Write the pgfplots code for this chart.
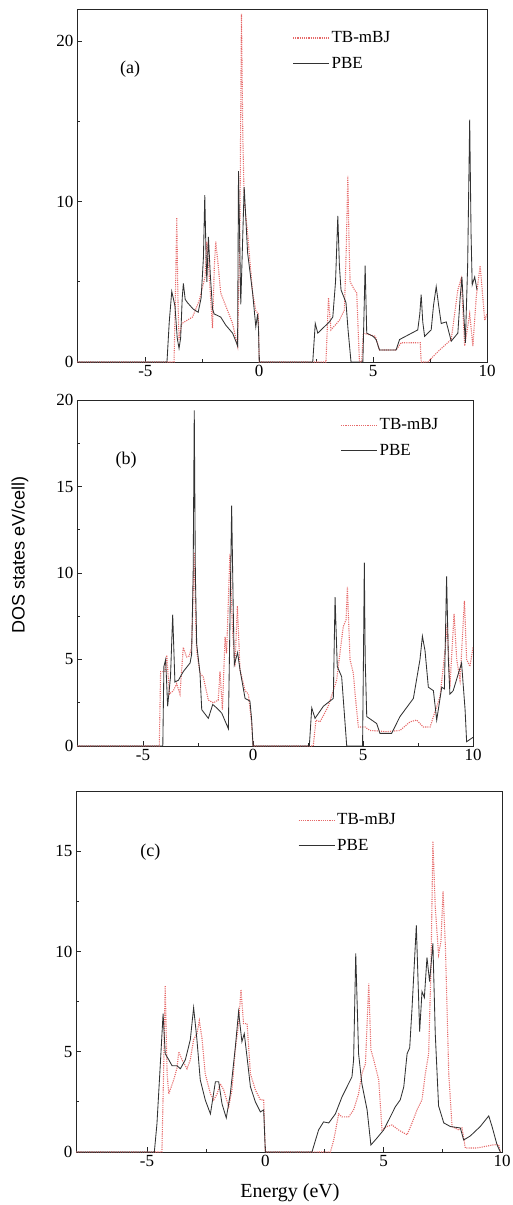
\documentclass[border=0pt]{standalone}
\usepackage{fontspec}
\setmainfont{Liberation Serif}
\newfontfamily\arialf{Liberation Sans}
\usepackage{pgfplots}
\pgfplotsset{compat=1.18}
\definecolor{tbred}{RGB}{230,105,105}
\definecolor{pbe}{RGB}{50,50,50}
\pgfplotsset{
  dosax/.style={
    scale only axis, xmin=-8, xmax=10,
    xtick={-5,0,5,10}, minor x tick num=1,
    tick align=inside, tick pos=left,
    major tick length=5pt, minor tick length=3pt,
    axis line style={line width=1pt, black!85},
    every tick/.style={black!85, line width=0.8pt},
    /pgf/number format/assume math mode=true,
    ticklabel style={font=\fontsize{17}{17}\selectfont},
    legend cell align=left,
    legend style={draw=none, fill=none, inner sep=0pt, row sep=9pt,
      font=\fontsize{17}{17}\selectfont, anchor=north west},
    legend image code/.code={\draw[##1] (0pt,0pt) -- (36pt,0pt);},
  },
  tbstyle/.style={tbred, line width=1.1pt, dash pattern=on 1.1pt off 1.1pt},
  pbestyle/.style={pbe, line width=0.85pt},
}
\begin{document}
\begin{tikzpicture}
\useasboundingbox (0pt,0pt) rectangle (512pt,-1205pt);
% (a)
\begin{axis}[dosax, at={(77pt,-362pt)}, anchor=south west, width=410pt, height=353pt,
  ymin=0, ymax=22, ytick={0,10,20}, minor y tick num=1,
  legend style={at={(0.525,0.942)}}]
\addplot[tbstyle] coordinates {(-8,0) (-3.74,0) (-3.68,4) (-3.62,9.0) (-3.57,4) (-3.52,1.4) (-3.40,2.4) (-2.93,2.8) (-2.64,3.8) (-2.38,5.3) (-2.3,7.5) (-2.2,5.5) (-2.05,2.1) (-1.97,6) (-1.91,7.5) (-1.8,6) (-1.69,4.3) (-1.47,3.5) (-1.17,2.4) (-0.95,1.0) (-0.85,8) (-0.78,21.7) (-0.72,14) (-0.66,10.1) (-0.51,8.0) (-0.29,4.3) (-0.15,3.2) (-0.04,3.0) (0,0) (2.93,0) (3.04,4.0) (3.15,2.0) (3.52,2.6) (3.74,3.25) (3.82,7) (3.89,11.6) (3.95,7) (3.99,5.0) (4.18,4.5) (4.28,4.3) (4.40,0) (4.5,0) (4.57,1.8) (5.1,1.6) (5.28,0.75) (6.01,0.75) (6.23,1.2) (7.07,1.2) (7.11,0) (7.4,0) (7.92,0.75) (8.43,1.4) (8.72,4.5) (8.87,5.2) (9.02,1.0) (9.24,3.0) (9.38,1.0) (9.53,4.1) (9.7,6.0) (9.9,2.6) (10,3)};
\addlegendentry{TB-mBJ}
\addplot[pbestyle] coordinates {(-8,0) (-4.05,0) (-3.95,2.5) (-3.84,4.4) (-3.7,3.5) (-3.6,1.5) (-3.52,0.85) (-3.45,1.5) (-3.38,4.0) (-3.33,4.9) (-3.25,3.9) (-3.15,3.7) (-2.9,3.3) (-2.68,3.1) (-2.55,4.0) (-2.45,6.5) (-2.39,10.4) (-2.34,7.0) (-2.30,5.0) (-2.23,7.8) (-2.15,5.5) (-2.05,3.3) (-1.98,3.0) (-1.69,2.8) (-1.47,2.3) (-1.17,1.8) (-1.0,1.2) (-0.95,1.0) (-0.91,11.9) (-0.85,7.0) (-0.81,3.6) (-0.72,8) (-0.66,10.9) (-0.51,6.8) (-0.29,4.3) (-0.15,2.2) (-0.07,3.0) (-0.03,2.0) (0,0) (2.35,0) (2.46,2.4) (2.57,1.8) (3.08,2.5) (3.23,2.8) (3.35,5) (3.45,9.1) (3.52,6) (3.59,4.5) (3.81,3.7) (3.9,2.0) (4.03,0) (4.55,0) (4.6,3) (4.65,6.0) (4.72,1.8) (5.0,1.6) (5.13,1.4) (5.28,0.75) (6.01,0.75) (6.16,1.4) (6.96,2.0) (7.05,3.0) (7.11,4.2) (7.18,2.5) (7.26,1.6) (7.55,2.0) (7.65,3.5) (7.77,4.7) (7.88,3.5) (7.99,2.4) (8.21,2.5) (8.43,1.3) (8.72,1.8) (8.82,4.0) (8.9,5.3) (8.98,3.0) (9.05,1.2) (9.15,6.0) (9.24,15.1) (9.3,8) (9.35,4.8) (9.46,5.3) (9.56,4.5)};
\addlegendentry{PBE}
\node[font=\fontsize{18}{18}\selectfont] at (axis cs:-5.67,18.25) {(a)};
\end{axis}
% (b)
\begin{axis}[dosax, at={(77pt,-746pt)}, anchor=south west, width=396pt, height=346pt,
  ymin=0, ymax=20, ytick={0,5,10,15,20}, minor y tick num=1,
  legend style={at={(0.665,0.952)}}]
\addplot[tbstyle] coordinates {(-8,0) (-4.26,0) (-4.2,4.3) (-4.0,4.3) (-3.92,5.25) (-3.8,3.0) (-3.62,3.2) (-3.47,3.6) (-3.32,3.0) (-3.17,5.7) (-3.02,5.15) (-2.9,5.2) (-2.79,5.7) (-2.67,11.2) (-2.6,7) (-2.56,5.5) (-2.41,4.2) (-2.26,4.0) (-2.03,2.65) (-1.8,2.5) (-1.58,2.65) (-1.5,4.3) (-1.39,2.1) (-1.27,6.3) (-1.2,5.35) (-1.05,11.1) (-0.94,6.9) (-0.82,4.6) (-0.71,8.1) (-0.59,4.4) (-0.36,3.2) (-0.21,3.0) (-0.06,1.3) (0,0) (2.74,0) (2.86,1.5) (3.05,1.4) (3.42,2.3) (3.8,3.8) (4.1,6.9) (4.23,7.3) (4.29,9.2) (4.41,5.0) (4.56,4.2) (4.64,3.0) (4.79,1.1) (5.09,1.1) (5.32,0.9) (6.08,0.83) (6.68,0.9) (7.14,1.4) (7.44,1.5) (7.74,1.1) (8.05,1.1) (8.2,1.7) (8.5,2.85) (8.73,5.5) (8.83,7.1) (8.95,3.4) (9.14,7.65) (9.26,5.0) (9.41,3.8) (9.61,8.4) (9.71,5.0) (9.86,4.6) (10,5.7)};
\addlegendentry{TB-mBJ}
\addplot[pbestyle] coordinates {(-8,0) (-4.1,0) (-4.05,4.6) (-3.97,5.0) (-3.88,2.3) (-3.75,4) (-3.65,7.6) (-3.55,3.7) (-3.39,3.8) (-3.17,4.3) (-2.86,4.8) (-2.79,5.3) (-2.72,10) (-2.67,19.4) (-2.62,10) (-2.56,5.9) (-2.41,4.2) (-2.33,2.1) (-2.03,1.6) (-1.83,2.4) (-1.65,2.2) (-1.42,1.9) (-1.12,1.0) (-1.05,7) (-0.97,13.9) (-0.9,8) (-0.85,4.7) (-0.70,5.4) (-0.59,4.4) (-0.36,2.75) (-0.14,2.6) (-0.06,1.5) (0,0) (2.56,0) (2.67,2.2) (2.82,1.6) (3.2,2.3) (3.65,2.75) (3.73,8.6) (3.83,4.6) (4.03,4.0) (4.26,0) (4.98,0) (5.02,5) (5.06,10.6) (5.1,5) (5.17,1.7) (5.62,1.3) (5.77,0.73) (6.3,0.73) (6.68,1.7) (7.29,2.75) (7.59,5.0) (7.7,6.35) (7.82,5.5) (7.97,3.4) (8.2,3.2) (8.35,1.5) (8.58,3.4) (8.7,3.3) (8.8,9.8) (8.88,5) (8.95,3.0) (9.1,3.2) (9.48,4.8) (9.64,2.1) (9.71,0.25) (10,0.5)};
\addlegendentry{PBE}
\node[font=\fontsize{18}{18}\selectfont] at (axis cs:-5.77,16.5) {(b)};
\end{axis}
% (c)
\begin{axis}[dosax, at={(76pt,-1152pt)}, anchor=south west, width=426pt, height=361pt,
  ymin=0, ymax=18, ytick={0,5,10,15}, minor y tick num=1,
  legend style={at={(0.521,0.943)}}]
\addplot[tbstyle] coordinates {(-8,0) (-4.37,0) (-4.3,3.9) (-4.23,8.3) (-4.15,3.9) (-4.08,2.9) (-3.87,3.6) (-3.73,4.2) (-3.66,5.0) (-3.52,4.6) (-3.31,4.15) (-3.17,4.6) (-3.03,5.6) (-2.89,5.9) (-2.79,6.55) (-2.68,5.7) (-2.54,3.9) (-2.32,2.9) (-2.18,2.6) (-2.04,2.9) (-1.9,3.4) (-1.76,3.1) (-1.55,2.25) (-1.41,3.1) (-1.27,5.1) (-1.13,6.4) (-1.03,8.1) (-0.92,6.4) (-0.77,6.4) (-0.63,3.9) (-0.42,3.1) (-0.21,2.6) (-0.07,2.6) (0,0) (2.75,0) (2.89,0.6) (3.1,1.9) (3.24,1.75) (3.52,1.75) (3.73,2.1) (3.94,2.9) (4.08,3.9) (4.23,4.4) (4.37,8.4) (4.46,5.1) (4.58,4.6) (4.79,3.6) (4.93,1.1) (5.14,1.27) (5.35,1.35) (5.63,1.1) (5.99,0.86) (6.2,1.45) (6.41,2.1) (6.62,2.6) (6.76,3.9) (6.9,4.9) (7.0,9.2) (7.08,15.5) (7.18,12.2) (7.32,9.85) (7.42,10.5) (7.51,13.0) (7.61,10.2) (7.75,3.9) (7.89,1.27) (8.17,1.1) (8.31,1.2) (8.45,0.2) (8.94,0.2) (9.65,0.36) (9.86,0.36) (9.93,0)};
\addlegendentry{TB-mBJ}
\addplot[pbestyle] coordinates {(-8,0) (-4.69,0) (-4.58,1.4) (-4.46,3.9) (-4.32,6.9) (-4.23,4.9) (-4.08,4.6) (-3.94,4.3) (-3.73,4.3) (-3.59,4.15) (-3.38,4.6) (-3.17,5.6) (-3.03,7.2) (-2.89,5.6) (-2.75,3.6) (-2.54,2.6) (-2.32,1.9) (-2.11,3.5) (-1.97,3.5) (-1.83,2.4) (-1.65,1.7) (-1.48,2.9) (-1.27,5.2) (-1.13,7.0) (-0.99,5.5) (-0.89,5.9) (-0.77,4.7) (-0.63,3.25) (-0.42,2.5) (-0.21,2.0) (-0.07,2.1) (0,0) (1.97,0) (2.25,1.1) (2.46,1.5) (2.68,1.45) (2.96,1.9) (3.24,2.75) (3.45,3.25) (3.66,3.75) (3.73,4.6) (3.82,9.9) (3.94,4.9) (4.08,3.4) (4.3,2.1) (4.46,0.35) (4.72,0.7) (5.0,1.1) (5.28,1.75) (5.49,2.25) (5.7,2.6) (5.85,3.25) (5.99,4.9) (6.1,5.2) (6.2,7.2) (6.38,11.3) (6.52,6.0) (6.62,8.0) (6.72,7.7) (6.83,9.7) (6.94,8.5) (7.08,10.4) (7.18,5.9) (7.32,2.3) (7.54,1.45) (7.82,1.27) (8.24,1.2) (8.38,0.6) (8.66,0.8) (9.08,1.27) (9.44,1.8) (9.58,1.27) (9.79,0.36) (9.93,0)};
\addlegendentry{PBE}
\node[font=\fontsize{18}{18}\selectfont] at (axis cs:-4.86,14.96) {(c)};
\end{axis}
\node[rotate=90, font=\arialf\fontsize{18}{18}\selectfont] at (20pt,-555pt) {DOS states eV/cell)};
\node[font=\fontsize{20}{20}\selectfont] at (290pt,-1193pt) {Energy (eV)};
\end{tikzpicture}
\end{document}
